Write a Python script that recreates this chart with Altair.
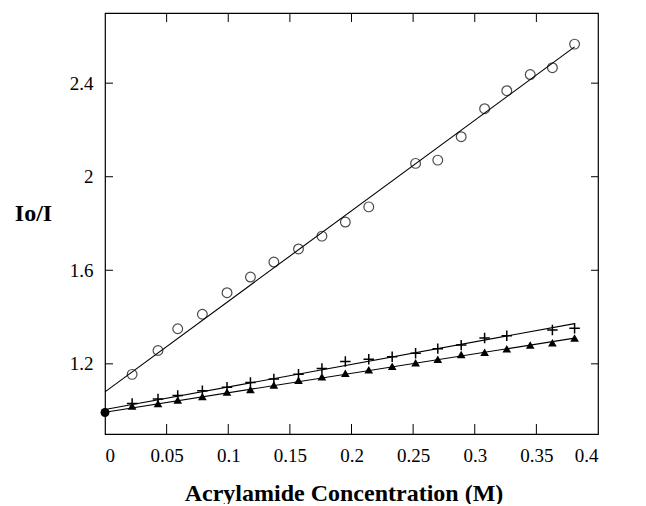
import altair as alt
import pandas as pd

# Circles (open)
circ_x = [0.022, 0.043, 0.059, 0.079, 0.099, 0.118, 0.137, 0.157, 0.176, 0.195,
          0.214, 0.252, 0.270, 0.289, 0.308, 0.326, 0.345, 0.363, 0.381]
circ_y = [1.155, 1.257, 1.350, 1.412, 1.504, 1.571, 1.635, 1.691, 1.746, 1.806,
          1.871, 2.057, 2.071, 2.171, 2.291, 2.368, 2.437, 2.466, 2.567]

# Crosses (+)
cross_x = [0.022, 0.043, 0.059, 0.079, 0.099, 0.118, 0.137, 0.157, 0.176, 0.195,
           0.214, 0.233, 0.252, 0.270, 0.289, 0.308, 0.326, 0.363, 0.381]
cross_y = [1.03, 1.05, 1.065, 1.085, 1.10, 1.12, 1.135, 1.155, 1.18, 1.21,
           1.22, 1.23, 1.245, 1.265, 1.28, 1.31, 1.32, 1.345, 1.352]

# Triangles (filled)
tri_x = [0.022, 0.043, 0.059, 0.079, 0.099, 0.118, 0.137, 0.157, 0.176, 0.195,
         0.214, 0.233, 0.252, 0.270, 0.289, 0.308, 0.326, 0.345, 0.363, 0.381]
tri_y = [1.02, 1.03, 1.045, 1.06, 1.08, 1.09, 1.11, 1.13, 1.145, 1.16,
         1.175, 1.19, 1.205, 1.22, 1.24, 1.25, 1.265, 1.28, 1.29, 1.31]

# Common origin point
origin_x = [0.0]
origin_y = [0.992]

# Fit lines
fit_x = [0.0, 0.381]
fit_circ = [1.08, 2.555]
fit_cross = [1.005, 1.372]
fit_tri = [0.993, 1.31]

x_ticks = [0, 0.05, 0.1, 0.15, 0.2, 0.25, 0.3, 0.35, 0.4]
y_ticks = [1.2, 1.6, 2, 2.4]
x_inner_ticks = [0.05, 0.1, 0.15, 0.2, 0.25, 0.3, 0.35]

W, H = 493, 421
FONT = "Liberation Serif"

xs = alt.Scale(domain=[0, 0.4], nice=False, zero=False)
ys = alt.Scale(domain=[0.9, 2.7], nice=False, zero=False)

xaxis = alt.Axis(values=x_ticks, format="~g", ticks=False, tickSize=0, domain=False, grid=False,
                 labelFont=FONT, labelFontSize=19, labelColor="black", labelPadding=12,
                 title="Acrylamide Concentration (M)", titleFont=FONT, titleFontSize=24,
                 titleFontWeight="bold", titleColor="black", titleX=W / 2 - 8, titleY=66,
                 titleBaseline="alphabetic", titleAnchor="middle")
yaxis = alt.Axis(values=y_ticks, format="~g", ticks=False, tickSize=0, domain=False, grid=False,
                 labelFont=FONT, labelFontSize=19, labelColor="black", labelPadding=12,
                 title="Io/I", titleFont=FONT, titleFontSize=24, titleFontWeight="bold",
                 titleColor="black", titleAngle=0, titleX=-72, titleY=200,
                 titleAlign="center", titleBaseline="middle")

def df(x, y):
    return pd.DataFrame({"x": x, "y": y})

base_axes = alt.Chart(df(circ_x, circ_y)).mark_point(
    shape="circle", filled=False, size=95, color="black", strokeWidth=1.2
).encode(x=alt.X("x:Q", scale=xs, axis=xaxis), y=alt.Y("y:Q", scale=ys, axis=yaxis))

def line(y):
    return alt.Chart(df(fit_x, y)).mark_line(color="black", strokeWidth=1.1).encode(
        x=alt.X("x:Q", scale=xs), y=alt.Y("y:Q", scale=ys))

cross = alt.Chart(df(cross_x, cross_y)).mark_point(
    shape="M-1,0L1,0M0,-1L0,1", filled=False, size=110, color="black", strokeWidth=1.5,
    opacity=1
).encode(x=alt.X("x:Q", scale=xs), y=alt.Y("y:Q", scale=ys))

tri = alt.Chart(df(tri_x, tri_y)).mark_point(
    shape="triangle-up", filled=True, size=75, color="black", opacity=1
).encode(x=alt.X("x:Q", scale=xs), y=alt.Y("y:Q", scale=ys))

origin = alt.Chart(df(origin_x, origin_y)).mark_point(
    shape="circle", filled=True, size=80, color="black", opacity=1
).encode(x=alt.X("x:Q", scale=xs), y=alt.Y("y:Q", scale=ys))

yt = pd.DataFrame({"y": y_ticks})
xt = pd.DataFrame({"x": x_inner_ticks})
left_t = alt.Chart(yt).mark_rule(color="black", strokeWidth=1).encode(
    y=alt.Y("y:Q", scale=ys), x=alt.value(0), x2=alt.value(8))
right_t = alt.Chart(yt).mark_rule(color="black", strokeWidth=1).encode(
    y=alt.Y("y:Q", scale=ys), x=alt.value(W - 7), x2=alt.value(W))
bot_t = alt.Chart(xt).mark_rule(color="black", strokeWidth=1).encode(
    x=alt.X("x:Q", scale=xs), y=alt.value(H - 10), y2=alt.value(H))
top_t = alt.Chart(xt).mark_rule(color="black", strokeWidth=1).encode(
    x=alt.X("x:Q", scale=xs), y=alt.value(0), y2=alt.value(9))

chart = alt.layer(
    base_axes, line(fit_circ), line(fit_cross), line(fit_tri), cross, tri, origin,
    left_t, right_t, bot_t, top_t
).properties(
    width=W, height=H,
    autosize=alt.AutoSizeParams(type="none"),
    padding={"left": 97, "top": 5, "right": 20, "bottom": 70},
    background="white",
).configure_view(stroke="black", strokeWidth=1.2)

chart.save("out.html", embed_options={"renderer": "svg", "actions": False})
